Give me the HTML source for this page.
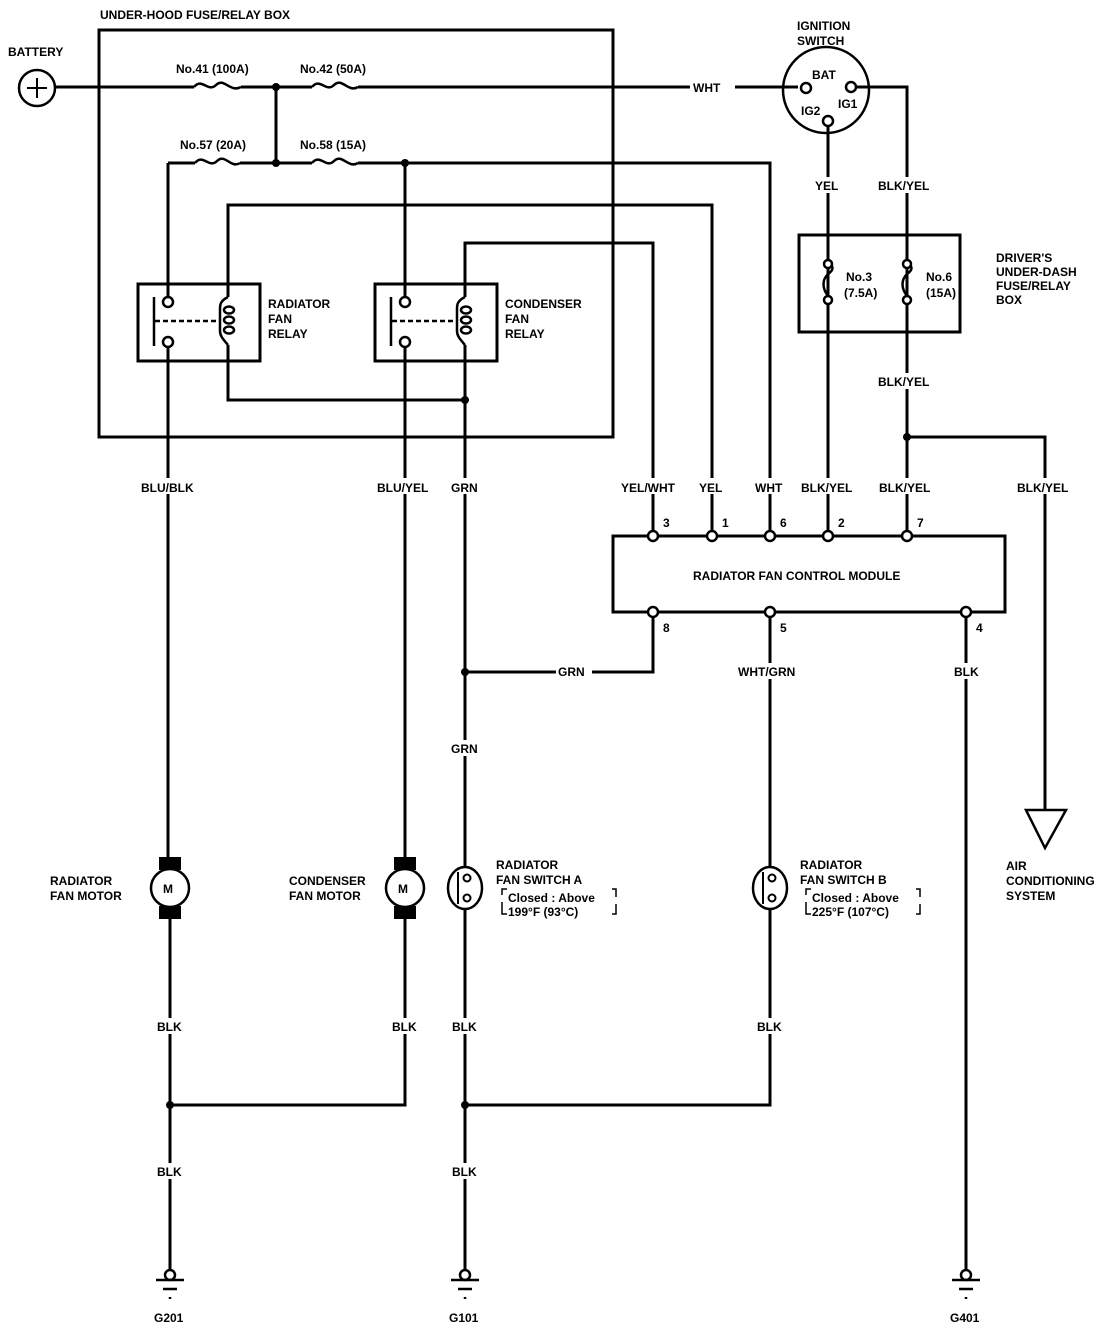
<!DOCTYPE html>
<html><head><meta charset="utf-8"><style>
html,body{margin:0;padding:0;background:#fff;}
svg{display:block;}
text{font-family:"Liberation Sans",sans-serif;font-weight:bold;font-size:12px;fill:#000;}
</style></head><body>
<svg width="1120" height="1330" viewBox="0 0 1120 1330" xmlns="http://www.w3.org/2000/svg">
<g fill="none" stroke="#000" stroke-width="3">
<!-- under-hood box -->
<rect x="99" y="30" width="514" height="407"/>
<!-- battery -->
<circle cx="37" cy="88" r="18" stroke-width="2.5"/>
<path d="M27 88h20M37 78v20" stroke-width="2"/>
<!-- main line -->
<path d="M55 87H194M241 87H312M358 87H690M735 87H798"/>
<path d="M194 87c8-10 14 6 22 -2 c8-8 14 8 25 2" stroke-width="2.5"/>
<path d="M312 87c8-10 14 6 22 -2 c8-8 14 8 24 2" stroke-width="2.5"/>
<path d="M276 87V163"/>
<!-- second row -->
<path d="M168 163H195M240 163H312M358 163H770V535"/>
<path d="M195 163c8-10 14 6 22 -2 c8-8 14 8 23 2" stroke-width="2.5"/>
<path d="M312 163c8-10 14 6 22 -2 c8-8 14 8 24 2" stroke-width="2.5"/>
<path d="M168 163V297"/>
<path d="M405 163V297"/>
<!-- control lines -->
<path d="M228 297V205H712V535"/>
<path d="M465 297V243H653V535"/>
<!-- relays -->
<rect x="138" y="284" width="122" height="77"/>
<rect x="375" y="284" width="122" height="77"/>
<path d="M228 345V400H465"/>
<path d="M168 347V858M405 347V858M465 345V867"/>
<!-- IG -->
<circle cx="826" cy="90" r="43" stroke-width="2.5"/>
<path d="M857 87H907V535"/>
<path d="M828 125V535"/>
<rect x="799" y="235" width="161" height="97"/>
<path d="M907 437H1045V810"/>
<path d="M1026 810H1066L1045 848Z" stroke-width="2.5"/>
<!-- module -->
<rect x="613" y="536" width="392" height="76"/>
<path d="M653 617V672H465M465 909V1270M770 617V867M770 909V1105H465"/>
<path d="M966 617V1270"/>
<path d="M170 918V1270M405 918V1105H170"/>
<!-- motors -->
<circle cx="170" cy="888" r="19" stroke-width="2.5"/>
<circle cx="405" cy="888" r="19" stroke-width="2.5"/>
<ellipse cx="465" cy="888" rx="17" ry="21" stroke-width="2.5"/>
<ellipse cx="770" cy="888" rx="17" ry="21" stroke-width="2.5"/>
<path d="M458 872V904M763 872V904" stroke-width="2"/>
<!-- brackets -->
<path d="M502 895v-6h5M502 902v12h5M612 889h4v8M616 904v10h-4" stroke-width="1.5"/>
<path d="M806 895v-6h5M806 902v12h5M916 889h4v8M920 904v10h-4" stroke-width="1.5"/>
</g>
<!-- relay internals -->
<g fill="none" stroke="#000" stroke-width="2.5">
<circle cx="168" cy="302" r="5" fill="#fff"/><circle cx="168" cy="342" r="5" fill="#fff"/>
<circle cx="405" cy="302" r="5" fill="#fff"/><circle cx="405" cy="342" r="5" fill="#fff"/>
<path d="M154 297V346M391 297V346"/>
<path d="M155 321H218M392 321H455" stroke-dasharray="5,3"/>
<path d="M228 297c-8 4-8 8-8 12v22c0 5 3 8 8 14"/>
<path d="M465 297c-8 4-8 8-8 12v22c0 5 3 8 8 14"/>
<ellipse cx="229" cy="310" rx="5" ry="3.5"/><ellipse cx="229" cy="320" rx="5" ry="3.5"/><ellipse cx="229" cy="330" rx="5" ry="3.5"/>
<ellipse cx="466" cy="310" rx="5" ry="3.5"/><ellipse cx="466" cy="320" rx="5" ry="3.5"/><ellipse cx="466" cy="330" rx="5" ry="3.5"/>
<!-- driver fuses -->
<path d="M828 262c6 4 6 8 0 12 c-6 6 -6 14 0 22"/>
<path d="M907 262c6 4 6 8 0 12 c-6 6 -6 14 0 22"/>
<circle cx="828" cy="264" r="4" fill="#fff"/><circle cx="828" cy="300" r="4" fill="#fff"/>
<circle cx="907" cy="264" r="4" fill="#fff"/><circle cx="907" cy="300" r="4" fill="#fff"/>
<!-- ig pins -->
<circle cx="806" cy="88" r="5" fill="#fff"/><circle cx="851" cy="87" r="5" fill="#fff"/><circle cx="828" cy="121" r="5" fill="#fff"/>
<!-- module pins -->
<circle cx="653" cy="536" r="5" fill="#fff"/><circle cx="712" cy="536" r="5" fill="#fff"/><circle cx="770" cy="536" r="5" fill="#fff"/><circle cx="828" cy="536" r="5" fill="#fff"/><circle cx="907" cy="536" r="5" fill="#fff"/>
<circle cx="653" cy="612" r="5" fill="#fff"/><circle cx="770" cy="612" r="5" fill="#fff"/><circle cx="966" cy="612" r="5" fill="#fff"/>
<!-- switch internals -->
<circle cx="467" cy="878" r="3.5" fill="#fff" stroke-width="2"/><circle cx="467" cy="898" r="3.5" fill="#fff" stroke-width="2"/>
<circle cx="772" cy="878" r="3.5" fill="#fff" stroke-width="2"/><circle cx="772" cy="898" r="3.5" fill="#fff" stroke-width="2"/>
<!-- grounds -->
<circle cx="170" cy="1275" r="5" fill="#fff"/><circle cx="465" cy="1275" r="5" fill="#fff"/><circle cx="966" cy="1275" r="5" fill="#fff"/>
<path d="M156 1280h28M163 1289h14M451 1280h28M458 1289h14M952 1280h28M959 1289h14"/>
<path d="M170 1297v2M465 1297v2M966 1297v2"/>
</g>
<!-- motor caps -->
<g fill="#000">
<rect x="159" y="857" width="22" height="13"/><rect x="159" y="906" width="22" height="13"/>
<rect x="394" y="857" width="22" height="13"/><rect x="394" y="906" width="22" height="13"/>
<circle cx="276" cy="87" r="4"/><circle cx="276" cy="163" r="4"/><circle cx="405" cy="163" r="4"/>
<circle cx="465" cy="400" r="4"/><circle cx="907" cy="437" r="4"/><circle cx="465" cy="672" r="4"/>
<circle cx="170" cy="1105" r="4"/><circle cx="465" cy="1105" r="4"/>
</g>
<!-- label backgrounds to break wires -->
<g fill="#fff">
<rect x="140" y="478" width="60" height="16"/><rect x="376" y="478" width="60" height="16"/><rect x="450" y="478" width="32" height="16"/>
<rect x="620" y="478" width="66" height="16"/><rect x="698" y="478" width="30" height="16"/><rect x="754" y="478" width="34" height="16"/>
<rect x="800" y="478" width="58" height="16"/><rect x="878" y="478" width="58" height="16"/><rect x="1016" y="478" width="58" height="16"/>
<rect x="556" y="663" width="36" height="16"/><rect x="736" y="663" width="70" height="16"/><rect x="952" y="663" width="30" height="16"/>
<rect x="450" y="740" width="32" height="16"/><rect x="813" y="177" width="30" height="16"/><rect x="876" y="177" width="60" height="16"/><rect x="876" y="373" width="60" height="16"/>
<rect x="155" y="1018" width="30" height="16"/><rect x="390" y="1018" width="30" height="16"/><rect x="450" y="1018" width="30" height="16"/><rect x="755" y="1018" width="30" height="16"/>
<rect x="155" y="1163" width="30" height="16"/><rect x="450" y="1163" width="30" height="16"/>
</g>
<text x="100" y="19">UNDER-HOOD FUSE/RELAY BOX</text>
<text x="8" y="56">BATTERY</text>
<text x="176" y="73">No.41 (100A)</text>
<text x="300" y="73">No.42 (50A)</text>
<text x="180" y="149">No.57 (20A)</text>
<text x="300" y="149">No.58 (15A)</text>
<text x="693" y="92">WHT</text>
<text x="797" y="30">IGNITION</text>
<text x="797" y="45">SWITCH</text>
<text x="812" y="79" font-size="10">BAT</text>
<text x="838" y="108" font-size="10">IG1</text>
<text x="801" y="115" font-size="10">IG2</text>
<text x="268" y="308">RADIATOR</text><text x="268" y="323">FAN</text><text x="268" y="338">RELAY</text>
<text x="505" y="308">CONDENSER</text><text x="505" y="323">FAN</text><text x="505" y="338">RELAY</text>
<text x="815" y="190">YEL</text><text x="878" y="190">BLK/YEL</text>
<text x="846" y="281">No.3</text><text x="844" y="297">(7.5A)</text>
<text x="926" y="281">No.6</text><text x="926" y="297">(15A)</text>
<text x="996" y="262">DRIVER'S</text><text x="996" y="276">UNDER-DASH</text><text x="996" y="290">FUSE/RELAY</text><text x="996" y="304">BOX</text>
<text x="878" y="386">BLK/YEL</text>
<text x="141" y="492">BLU/BLK</text><text x="377" y="492">BLU/YEL</text><text x="451" y="492">GRN</text>
<text x="621" y="492">YEL/WHT</text><text x="699" y="492">YEL</text><text x="755" y="492">WHT</text>
<text x="801" y="492">BLK/YEL</text><text x="879" y="492">BLK/YEL</text><text x="1017" y="492">BLK/YEL</text>
<text x="663" y="527">3</text><text x="722" y="527">1</text><text x="780" y="527">6</text><text x="838" y="527">2</text><text x="917" y="527">7</text>
<text x="693" y="580">RADIATOR FAN CONTROL MODULE</text>
<text x="663" y="632">8</text><text x="780" y="632">5</text><text x="976" y="632">4</text>
<text x="558" y="676">GRN</text><text x="738" y="676">WHT/GRN</text><text x="954" y="676">BLK</text>
<text x="451" y="753">GRN</text>
<text x="50" y="885">RADIATOR</text><text x="50" y="900">FAN MOTOR</text>
<text x="289" y="885">CONDENSER</text><text x="289" y="900">FAN MOTOR</text>
<text x="163" y="893">M</text><text x="398" y="893">M</text>
<text x="496" y="869">RADIATOR</text><text x="496" y="884">FAN SWITCH A</text>
<text x="508" y="902" font-size="11">Closed : Above</text><text x="508" y="916" font-size="11">199°F (93°C)</text>
<text x="800" y="869">RADIATOR</text><text x="800" y="884">FAN SWITCH B</text>
<text x="812" y="902" font-size="11">Closed : Above</text><text x="812" y="916" font-size="11">225°F (107°C)</text>
<text x="1006" y="870">AIR</text><text x="1006" y="885">CONDITIONING</text><text x="1006" y="900">SYSTEM</text>
<text x="157" y="1031">BLK</text><text x="392" y="1031">BLK</text><text x="452" y="1031">BLK</text><text x="757" y="1031">BLK</text>
<text x="157" y="1176">BLK</text><text x="452" y="1176">BLK</text>
<text x="154" y="1322">G201</text><text x="449" y="1322">G101</text><text x="950" y="1322">G401</text>
</svg>
</body></html>
